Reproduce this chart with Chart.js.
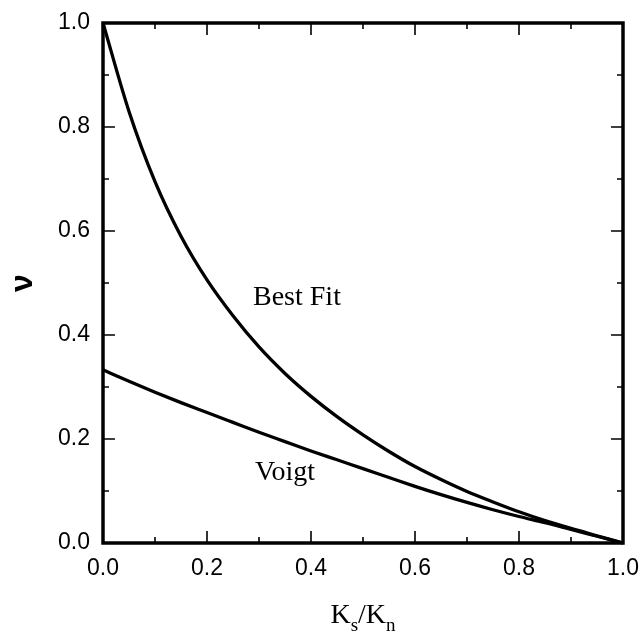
<!DOCTYPE html>
<html>
<head>
<meta charset="utf-8">
<script src="https://cdn.jsdelivr.net/npm/chart.js@4.4.0/dist/chart.umd.min.js"></script>
<style>
  html, body { margin: 0; padding: 0; background: #fff; }
  #wrap { width: 640px; height: 634px; position: relative; }
</style>
</head>
<body>
<div id="wrap"><canvas id="c" width="640" height="634"></canvas></div>
<script>
// ---- data ----
const ratio   = [0, 0.05, 0.10, 0.15, 0.20, 0.25, 0.30, 0.35, 0.40, 0.45, 0.50, 0.55, 0.60, 0.65, 0.70, 0.75, 0.80, 0.85, 0.90, 0.95, 1.00];
const bestFit = [1.000, 0.830, 0.695, 0.590, 0.506, 0.437, 0.377, 0.326, 0.282, 0.243, 0.208, 0.176, 0.147, 0.122, 0.099, 0.079, 0.060, 0.043, 0.028, 0.014, 0.000];
const voigt   = [0.333, 0.311, 0.290, 0.270, 0.251, 0.232, 0.213, 0.195, 0.177, 0.160, 0.143, 0.126, 0.109, 0.093, 0.078, 0.064, 0.051, 0.039, 0.026, 0.013, 0.000];
const majorTicks = [0, 0.2, 0.4, 0.6, 0.8, 1.0];
const minorTicks = [0.1, 0.3, 0.5, 0.7, 0.9];
const tickLabels = ['0.0', '0.2', '0.4', '0.6', '0.8', '1.0'];
const curveLabels = [
  { text: 'Best Fit', x: 0.373, y: 0.471 },
  { text: 'Voigt',    x: 0.350, y: 0.135 }
];
const xTitleParts = [['K', false], ['s', true], ['/K', false], ['n', true]];
const yTitle = 'ν';

const serif = '"Liberation Serif", "Times New Roman", serif';
const sans = '"Liberation Sans", Arial, Helvetica, sans-serif';

const framePlugin = {
  id: 'frame',
  afterDraw(chart) {
    const { ctx, chartArea: a, scales: { x, y } } = chart;
    ctx.save();
    ctx.strokeStyle = '#000';
    const drawTicks = (vals, len, w) => {
      ctx.lineWidth = w;
      vals.forEach(v => {
        const px = x.getPixelForValue(v);
        const py = y.getPixelForValue(v);
        ctx.beginPath();
        ctx.moveTo(px, a.bottom); ctx.lineTo(px, a.bottom - len);
        ctx.moveTo(px, a.top); ctx.lineTo(px, a.top + len);
        ctx.moveTo(a.left, py); ctx.lineTo(a.left + len, py);
        ctx.moveTo(a.right, py); ctx.lineTo(a.right - len, py);
        ctx.stroke();
      });
    };
    drawTicks(majorTicks, 12, 1.6);
    drawTicks(minorTicks, 6, 1.6);
    ctx.lineWidth = 3.5;
    ctx.strokeRect(a.left, a.top, a.right - a.left, a.bottom - a.top);
    ctx.fillStyle = '#000';
    ctx.font = '28px ' + serif;
    ctx.textAlign = 'center';
    ctx.textBaseline = 'middle';
    curveLabels.forEach(l => {
      ctx.fillText(l.text, x.getPixelForValue(l.x), y.getPixelForValue(l.y));
    });
    const big = '28px ' + serif, small = '19px ' + serif;
    ctx.textAlign = 'left';
    ctx.textBaseline = 'alphabetic';
    let total = 0;
    xTitleParts.forEach(([t, sub]) => { ctx.font = sub ? small : big; total += ctx.measureText(t).width; });
    let cx = (a.left + a.right) / 2 - total / 2;
    const base = 623;
    xTitleParts.forEach(([t, sub]) => {
      ctx.font = sub ? small : big;
      ctx.fillText(t, cx, sub ? base + 8 : base);
      cx += ctx.measureText(t).width;
    });
    ctx.restore();
  }
};

new Chart(document.getElementById('c'), {
  type: 'line',
  data: {
    datasets: [
      { label: 'Best Fit', data: ratio.map((r, i) => ({ x: r, y: bestFit[i] })) },
      { label: 'Voigt', data: ratio.map((r, i) => ({ x: r, y: voigt[i] })) }
    ]
  },
  options: {
    responsive: false,
    animation: false,
    layout: { padding: { top: 23, right: 17, left: 0, bottom: 0 } },
    elements: {
      line: { borderColor: '#000', borderWidth: 3.3, tension: 0.4, cubicInterpolationMode: 'monotone', fill: false },
      point: { radius: 0, hoverRadius: 0 }
    },
    datasets: { line: { clip: false } },
    plugins: { legend: { display: false }, tooltip: { enabled: false } },
    scales: {
      x: {
        type: 'linear', min: 0, max: 1,
        afterFit(s) { s.height = 91; s.paddingRight = 0; s.paddingLeft = 0; },
        border: { display: false },
        grid: { display: false, drawTicks: false },
        afterBuildTicks(s) { s.ticks = majorTicks.map(v => ({ value: v })); },
        ticks: {
          color: '#000', padding: 12, maxRotation: 0,
          font: { family: sans, size: 23 },
          callback: (v, i) => tickLabels[i]
        }
      },
      y: {
        type: 'linear', min: 0, max: 1,
        afterFit(s) { s.width = 103; s.paddingTop = 0; s.paddingBottom = 0; },
        border: { display: false },
        grid: { display: false, drawTicks: false },
        afterBuildTicks(s) { s.ticks = majorTicks.map(v => ({ value: v })); },
        ticks: {
          color: '#000', padding: 13,
          font: { family: sans, size: 23 },
          callback: (v, i) => tickLabels[i]
        },
        title: {
          display: true, text: yTitle, color: '#000',
          font: { family: sans, size: 32, weight: 'bold' },
          padding: { top: 4, bottom: 0 }
        }
      }
    }
  },
  plugins: [framePlugin]
});
</script>
</body>
</html>
